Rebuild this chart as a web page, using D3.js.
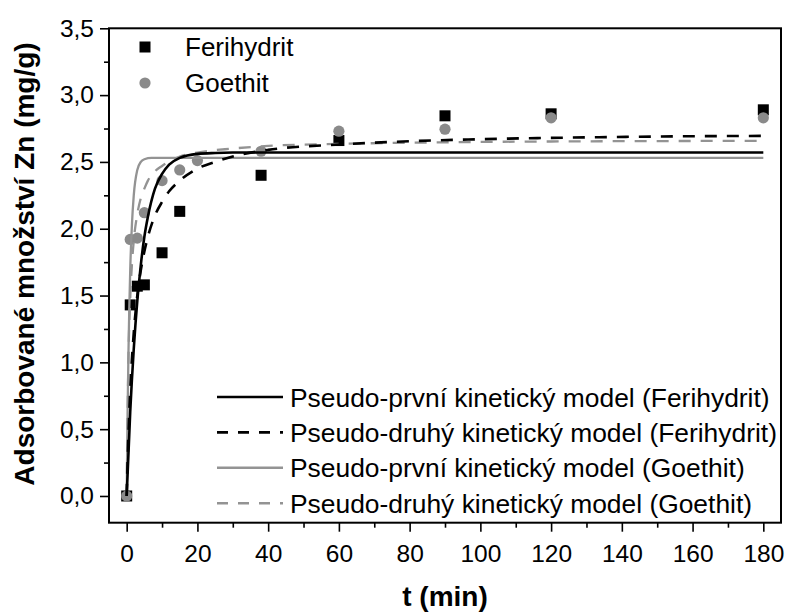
<!DOCTYPE html>
<html><head><meta charset="utf-8">
<script src="https://cdn.jsdelivr.net/npm/d3@7"></script>
<style>body{margin:0;background:#fff}svg{display:block}</style>
</head><body><svg id="c" width="787" height="615"></svg>
<script>
// Measured data
const timesFeri = [0, 1, 3, 5, 10, 15, 38, 60, 90, 120, 180];
const valuesFeri = [0, 1.43, 1.57, 1.58, 1.82, 2.13, 2.40, 2.66, 2.845, 2.86, 2.89];
const timesGoe = [0, 1, 3, 5, 10, 15, 20, 38, 60, 90, 120, 180];
const valuesGoe = [0, 1.92, 1.93, 2.12, 2.36, 2.44, 2.51, 2.58, 2.73, 2.745, 2.83, 2.83];

// Model curves
const tPFOFeri = [0, 1, 2, 3, 4, 5, 6, 8, 10, 12, 15, 20, 25, 30, 40, 60, 100, 180];
const qPFOFeri = [0, 0.63, 1.10, 1.46, 1.73, 1.94, 2.09, 2.30, 2.41, 2.48, 2.53, 2.56, 2.567, 2.57, 2.57, 2.57, 2.57, 2.57];
const tPSOFeri = [0, 0.5, 1, 2, 3, 4, 5, 6, 8, 10, 12, 15, 20, 25, 30, 40, 60, 80, 100, 120, 150, 180];
const qPSOFeri = [0, 0.46, 0.79, 1.22, 1.50, 1.69, 1.83, 1.94, 2.10, 2.20, 2.28, 2.36, 2.45, 2.50, 2.54, 2.59, 2.63, 2.655, 2.67, 2.68, 2.69, 2.695];
const tPFOGoe = [0, 0.25, 0.5, 0.75, 1, 1.5, 2, 3, 4, 5, 7, 10, 180];
const qPFOGoe = [0, 0.61, 1.07, 1.42, 1.69, 2.04, 2.25, 2.44, 2.50, 2.52, 2.53, 2.53, 2.53];
const tPSOGoe = [0, 0.5, 1, 1.5, 2, 3, 4, 5, 6, 8, 10, 15, 20, 30, 40, 60, 90, 120, 150, 180];
const qPSOGoe = [0, 1.03, 1.48, 1.74, 1.91, 2.11, 2.23, 2.30, 2.36, 2.43, 2.47, 2.54, 2.57, 2.60, 2.62, 2.635, 2.647, 2.653, 2.656, 2.658];

const xTicks = [0, 20, 40, 60, 80, 100, 120, 140, 160, 180];
const xMinor = [10, 30, 50, 70, 90, 110, 130, 150, 170];
const yTicks = [0, 0.5, 1.0, 1.5, 2.0, 2.5, 3.0, 3.5];
const yMinor = [0.25, 0.75, 1.25, 1.75, 2.25, 2.75, 3.25];

const legendNames = [
  "Pseudo-první kinetický model (Ferihydrit)",
  "Pseudo-druhý kinetický model (Ferihydrit)",
  "Pseudo-první kinetický model (Goethit)",
  "Pseudo-druhý kinetický model (Goethit)"
];

const BLACK = "#000", GRAY = "#8a8a8a", GRAYLINE = "#939393";
const FONT = "'Liberation Sans', Arial, sans-serif";

const svg = d3.select("#c");
const L = 109, R = 781, T = 28.3, B = 522.7;
const x = d3.scaleLinear().domain([-5, 185]).range([L, R]);
const y = d3.scaleLinear().domain([-0.2, 3.5]).range([B, T]);

const fmt = d => d3.format(".1f")(d).replace(".", ",");

// axes
const gx = svg.append("g").attr("transform", `translate(0,${B})`)
  .call(d3.axisBottom(x).tickValues(xTicks).tickSize(9).tickPadding(13).tickFormat(d3.format("d")));
const gxm = svg.append("g").attr("transform", `translate(0,${B})`)
  .call(d3.axisBottom(x).tickValues(xMinor).tickSize(5).tickFormat(""));
const gy = svg.append("g").attr("transform", `translate(${L},0)`)
  .call(d3.axisLeft(y).tickValues(yTicks).tickSize(9).tickPadding(6).tickFormat(fmt));
const gym = svg.append("g").attr("transform", `translate(${L},0)`)
  .call(d3.axisLeft(y).tickValues(yMinor).tickSize(5).tickFormat(""));
[gx, gxm, gy, gym].forEach(g => {
  g.select(".domain").remove();
  g.selectAll("line").attr("stroke", "#000").attr("stroke-width", 1.6);
  g.selectAll("text").attr("font-family", FONT).attr("font-size", 24.5).attr("fill", "#000");
});

// frame
svg.append("rect").attr("x", L).attr("y", T).attr("width", R - L).attr("height", B - T)
  .attr("fill", "none").attr("stroke", "#000").attr("stroke-width", 2);

// markers
const feri = timesFeri.map((t, i) => [t, valuesFeri[i]]);
const goe = timesGoe.map((t, i) => [t, valuesGoe[i]]);
const S = 11;
svg.append("g").selectAll("rect").data(feri).join("rect")
  .attr("x", d => x(d[0]) - S / 2).attr("y", d => y(d[1]) - S / 2)
  .attr("width", S).attr("height", S).attr("fill", BLACK);
svg.append("g").selectAll("circle").data(goe).join("circle")
  .attr("cx", d => x(d[0])).attr("cy", d => y(d[1])).attr("r", 5.6).attr("fill", GRAY);

// curves
const line = d3.line().x(d => x(d[0])).y(d => y(d[1])).curve(d3.curveMonotoneX);
const curves = [
  {t: tPSOGoe, q: qPSOGoe, c: GRAYLINE, dash: "12,10", w: 2.3},
  {t: tPFOGoe, q: qPFOGoe, c: GRAYLINE, dash: null, w: 2.3},
  {t: tPSOFeri, q: qPSOFeri, c: BLACK, dash: "12,10", w: 2.6},
  {t: tPFOFeri, q: qPFOFeri, c: BLACK, dash: null, w: 2.6}
];
curves.forEach(cv => {
  svg.append("path").datum(cv.t.map((t, i) => [t, cv.q[i]]))
    .attr("d", line).attr("fill", "none").attr("stroke", cv.c)
    .attr("stroke-width", cv.w).attr("stroke-dasharray", cv.dash);
});

// top legend
const topLeg = [{n: "Ferihydrit", shape: "sq", c: BLACK, y: 47}, {n: "Goethit", shape: "ci", c: GRAY, y: 83}];
topLeg.forEach(d => {
  if (d.shape === "sq") svg.append("rect").attr("x", 145 - S / 2).attr("y", d.y - S / 2).attr("width", S).attr("height", S).attr("fill", d.c);
  else svg.append("circle").attr("cx", 145).attr("cy", d.y).attr("r", 5.6).attr("fill", d.c);
  svg.append("text").attr("x", 185).attr("y", d.y).attr("dy", "0.36em")
    .attr("font-family", FONT).attr("font-size", 26).text(d.n);
});

// bottom legend
const legStyles = [
  {c: BLACK, dash: null}, {c: BLACK, dash: "11,10"}, {c: GRAYLINE, dash: null}, {c: GRAYLINE, dash: "11,10"}
];
legendNames.forEach((n, i) => {
  const ly = 397 + i * 35.4;
  svg.append("line").attr("x1", 217).attr("x2", 283).attr("y1", ly).attr("y2", ly)
    .attr("stroke", legStyles[i].c).attr("stroke-width", 2.6).attr("stroke-dasharray", legStyles[i].dash);
  svg.append("text").attr("x", 290).attr("y", ly).attr("dy", "0.36em")
    .attr("font-family", FONT).attr("font-size", 26.4).text(n);
});

// axis titles
svg.append("text").attr("x", (L + R) / 2).attr("y", 606).attr("text-anchor", "middle")
  .attr("font-family", FONT).attr("font-weight", "bold").attr("font-size", 28).text("t (min)");
svg.append("text").attr("transform", `translate(34,264) rotate(-90)`).attr("text-anchor", "middle")
  .attr("font-family", FONT).attr("font-weight", "bold").attr("font-size", 28).text("Adsorbované množství Zn (mg/g)");
</script></body></html>
